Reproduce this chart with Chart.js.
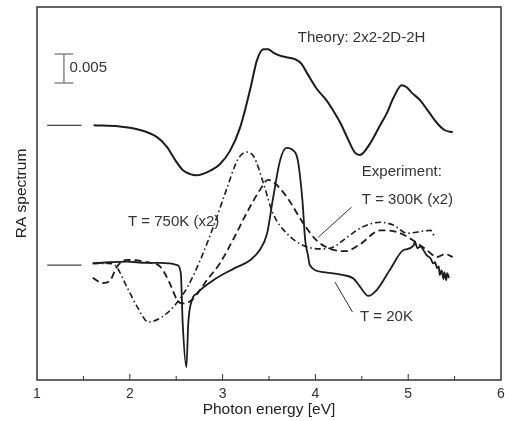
<!DOCTYPE html>
<html>
<head>
<meta charset="utf-8">
<script src="https://cdn.jsdelivr.net/npm/chart.js@4.4.1/dist/chart.umd.min.js"></script>
<style>
  html, body { margin:0; padding:0; background:#fff; }
  #wrap { width:505px; height:421px; }
</style>
</head>
<body>
<div id="wrap"><canvas id="raChart"></canvas></div>
<script>
// photon energy [eV] and RA values (units of 1e-3, curves offset as in the figure)
var theoryE = [1.61,1.89,2.11,2.29,2.40,2.49,2.57,2.65,2.72,2.83,2.97,3.08,3.19,3.30,3.37,3.44,3.49,3.55,3.64,3.78,3.85,3.91,4.01,4.12,4.19,4.27,4.34,4.43,4.48,4.59,4.68,4.77,4.84,4.93,4.98,5.04,5.13,5.20,5.31,5.39,5.48];
var theoryRA = [24.1,23.9,23.3,22.1,20.4,18.1,16.4,15.7,15.5,16.0,17.4,19.7,23.8,30.5,35.3,37.2,37.2,36.6,36.0,35.5,34.7,33.1,30.5,28.4,26.7,24.5,22.1,19.3,19.0,21.0,23.6,26.2,28.8,31.0,30.7,29.7,28.4,26.9,24.5,23.3,22.9];

var k20E = [1.60,1.79,1.97,2.18,2.33,2.43,2.51,2.55,2.57,2.61,2.63,2.67,2.72,2.90,3.12,3.30,3.40,3.48,3.54,3.62,3.69,3.76,3.81,3.86,3.89,3.92,3.94,4.09,4.30,4.41,4.48,4.57,4.66,4.80,4.95,5.06,5.07,5.10,5.13,5.20,5.24,5.27,5.29,5.31,5.33,5.34,5.36,5.38,5.39,5.41,5.42,5.44];
var k20RA = [0.3,0.5,0.6,0.4,0.4,0.3,0.0,-1.4,-10.0,-17.6,-10.0,-6.0,-4.9,-2.6,-0.6,0.9,2.6,5.5,11.2,18.1,20.2,19.8,18.1,11.2,4.3,1.7,0.0,-1.2,-1.7,-2.3,-3.7,-5.3,-4.3,-0.9,2.6,3.4,4.1,2.9,3.2,1.7,1.2,0.3,0.5,-0.5,-0.2,-1.7,-0.9,-2.4,-1.2,-2.6,-1.4,-2.2];

var k300E = [1.60,1.71,1.79,1.86,1.97,2.19,2.33,2.43,2.51,2.56,2.67,2.83,2.97,3.11,3.26,3.40,3.49,3.55,3.69,3.87,4.01,4.16,4.32,4.48,4.70,4.88,5.05,5.20,5.31,5.40,5.48];
var k300RA = [-2.2,-3.1,-2.6,-0.3,0.9,0.5,-0.3,-3.1,-6.0,-6.6,-6.0,-2.6,0.3,4.3,9.0,12.9,14.7,14.3,11.8,7.2,4.3,2.8,2.4,3.6,6.0,5.7,4.3,2.6,1.4,1.9,1.4];

var k750E = [1.60,1.77,1.84,1.97,2.08,2.20,2.33,2.47,2.62,2.76,2.90,3.05,3.16,3.26,3.34,3.44,3.54,3.69,3.87,4.05,4.19,4.34,4.51,4.70,4.84,4.99,5.10,5.24,5.29];
var k750RA = [0.3,0.3,0.0,-3.8,-7.2,-9.8,-9.1,-7.2,-3.8,0.9,6.6,13.4,18.1,19.5,18.6,14.1,9.0,5.5,3.4,2.8,3.1,4.8,6.6,7.4,6.9,5.5,5.7,6.0,4.7];

// baseline markers at the left edge
var baseE = [1.11,1.48];
var theoryBase = 24.1;
var exptBase = 0;

var xTicks = [1,2,3,4,5,6];

function pts(xs, ys) {
  return xs.map(function(x, i){ return {x:x, y:ys[i]}; });
}

var ink = '#1c1c1c';

// frame, inward ticks, scale bar and labels
var decor = {
  id:'decor',
  afterDatasetsDraw:function(chart){
    var c = chart.ctx, a = chart.chartArea, xs = chart.scales.x, ys = chart.scales.y;
    c.save();
    c.strokeStyle = '#333'; c.lineWidth = 1.5;
    c.strokeRect(a.left, a.top, a.right - a.left, a.bottom - a.top);
    c.lineWidth = 1;
    for (var v = 1.5; v < 6; v += 0.5) {
      var px = xs.getPixelForValue(v);
      var len = (v % 1 === 0) ? 6 : 4;
      c.beginPath(); c.moveTo(px, a.bottom); c.lineTo(px, a.bottom - len); c.stroke();
    }
    // scale bar 0.005
    c.strokeStyle = '#888'; c.lineWidth = 1.5;
    var bx = xs.getPixelForValue(1.29), bt = ys.getPixelForValue(36.4), bb = ys.getPixelForValue(31.4);
    var c1 = xs.getPixelForValue(1.19), c2 = xs.getPixelForValue(1.39);
    c.beginPath();
    c.moveTo(bx, bt); c.lineTo(bx, bb);
    c.moveTo(c1, bt); c.lineTo(c2, bt);
    c.moveTo(c1, bb); c.lineTo(c2, bb);
    c.stroke();
    // leader lines
    c.strokeStyle = '#333'; c.lineWidth = 1;
    c.beginPath();
    c.moveTo(xs.getPixelForValue(4.39), ys.getPixelForValue(10.0));
    c.lineTo(xs.getPixelForValue(4.03), ys.getPixelForValue(4.8));
    c.moveTo(xs.getPixelForValue(4.21), ys.getPixelForValue(-2.9));
    c.lineTo(xs.getPixelForValue(4.40), ys.getPixelForValue(-8.1));
    c.stroke();
    c.fillStyle = '#333';
    c.font = '15px "Liberation Sans", Arial, sans-serif';
    c.textBaseline = 'middle'; c.textAlign = 'left';
    var labels = [
      ['Theory: 2x2-2D-2H', 3.81, 39.1],
      ['0.005', 1.35, 34.0],
      ['Experiment:', 4.50, 16.0],
      ['T = 300K (x2)', 4.50, 11.2],
      ['T = 750K (x2)', 1.98, 7.4],
      ['T = 20K', 4.48, -9.0]
    ];
    labels.forEach(function(l){
      c.fillText(l[0], xs.getPixelForValue(l[1]), ys.getPixelForValue(l[2]));
    });
    c.restore();
  }
};

Chart.defaults.font.family = '"Liberation Sans", Arial, sans-serif';
Chart.defaults.color = '#333';

var raChart = new Chart(document.getElementById('raChart').getContext('2d'), {
  type:'line',
  data:{
    datasets:[
      {label:'Theory', data:pts(theoryE, theoryRA), borderColor:ink, borderWidth:2},
      {label:'T = 20K', data:pts(k20E, k20RA), borderColor:ink, borderWidth:1.8},
      {label:'T = 300K (x2)', data:pts(k300E, k300RA), borderColor:ink, borderWidth:1.8, borderDash:[7,4]},
      {label:'T = 750K (x2)', data:pts(k750E, k750RA), borderColor:ink, borderWidth:1.6, borderDash:[6,3,1.5,3]},
      {label:'base theory', data:pts(baseE, [theoryBase, theoryBase]), borderColor:'#444', borderWidth:1.2},
      {label:'base expt', data:pts(baseE, [exptBase, exptBase]), borderColor:'#444', borderWidth:1.2}
    ]
  },
  options:{
    responsive:true,
    maintainAspectRatio:false,
    animation:false,
    elements:{ point:{ radius:0 }, line:{ cubicInterpolationMode:'monotone', fill:false } },
    layout:{ padding:{ top:7, right:4, left:0, bottom:0 } },
    plugins:{ legend:{ display:false }, tooltip:{ enabled:false } },
    scales:{
      x:{
        type:'linear', min:1, max:6,
        afterBuildTicks:function(s){ s.ticks = xTicks.map(function(v){ return {value:v}; }); },
        ticks:{ font:{ size:14 }, color:'#333', padding:6, maxRotation:0 },
        grid:{ display:false, drawTicks:false, tickLength:0 },
        border:{ display:false },
        title:{ display:true, text:'Photon energy [eV]', font:{ size:15.5 }, color:'#222', padding:{ top:0, bottom:2 } },
        afterFit:function(s){ s.height = 41; s.paddingLeft = 0; s.paddingRight = 0; }
      },
      y:{
        min:-19.8, max:44.5,
        ticks:{ display:false },
        grid:{ display:false },
        border:{ display:false },
        title:{ display:true, text:'RA spectrum', font:{ size:15.5 }, color:'#222', padding:{ top:12, bottom:0 } },
        afterFit:function(s){ s.width = 37; }
      }
    }
  },
  plugins:[decor]
});
</script>
</body>
</html>
